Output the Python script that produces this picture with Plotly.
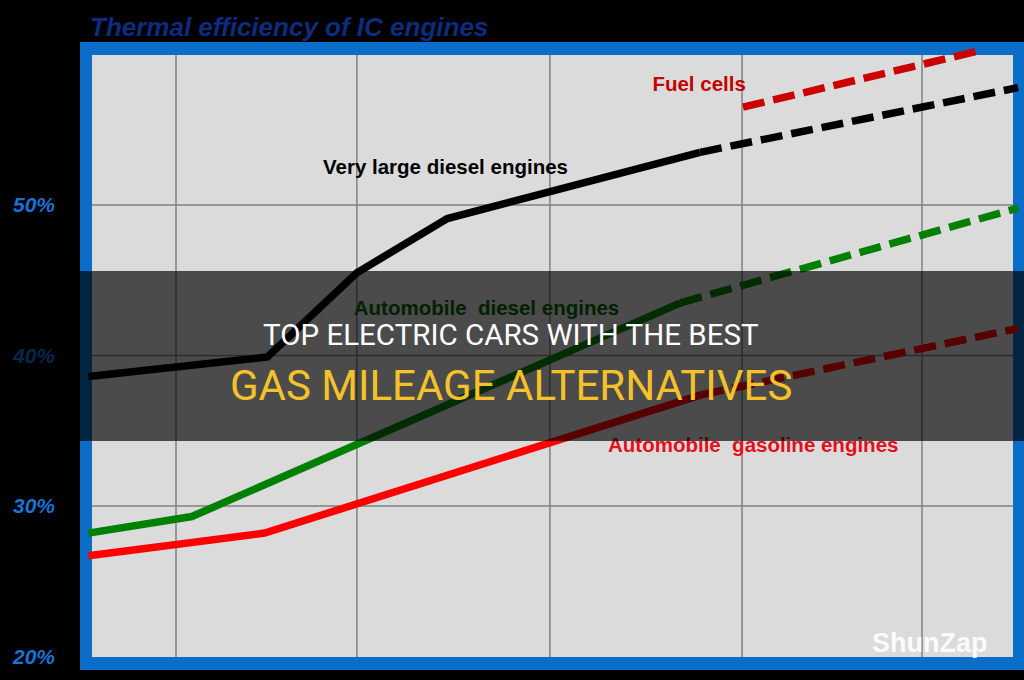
import plotly.graph_objects as go

# ---------------- data ----------------
# x in approximate years, y in thermal efficiency (%)
x_grid = [1920, 1939.4, 1960.1, 1980.7, 2000.0]
y_grid = [30, 40, 50]
y_ticks = [20, 30, 40, 50]
y_ticktext = ["20%", "30%", "40%", "50%"]

large_diesel_x = [1910.6, 1929.8, 1939.4, 1949.1, 1976.2]
large_diesel_y = [38.6, 39.9, 45.5, 49.1, 53.5]
large_diesel_proj_x = [1976.2, 2010.3]
large_diesel_proj_y = [53.5, 57.8]

auto_diesel_x = [1910.6, 1921.7, 1974.1]
auto_diesel_y = [28.2, 29.3, 43.5]
auto_diesel_proj_x = [1974.1, 2010.3]
auto_diesel_proj_y = [43.5, 49.8]

gasoline_x = [1910.6, 1929.5, 1976.4]
gasoline_y = [26.7, 28.2, 37.4]
gasoline_proj_x = [1976.4, 2010.3]
gasoline_proj_y = [37.4, 41.8]

fuel_cell_x = [1980.8, 2006.5]
fuel_cell_y = [56.5, 60.3]

label_text = ["Very large diesel engines", "Fuel cells",
              "Automobile\u00a0 diesel engines", "Automobile\u00a0 gasoline engines"]
label_x = [1948.9, 1976.1, 1953.3, 1981.9]
label_y = [52.4, 57.9, 43.0, 33.9]
label_colors = ["#000000", "#c40000", "#006400", "#e3101a"]

title_text = "Thermal efficiency of IC engines"
banner_line1 = "TOP ELECTRIC CARS WITH THE BEST"
banner_line2 = "GAS MILEAGE ALTERNATIVES"
watermark = "ShunZap"

# ---------------- styling ----------------
W, H = 1024, 680
ML, MR, MT, MB = 80, 0, 42, 10
PW, PH = W - ML - MR, H - MT - MB
BLUE = "#0a6ec8"
GRAY = "#dbdbdb"
GRID = "#808080"
DASH = "22px,9px"
LW = 7.5

GY0 = 1 - (657 - MT) / PH   # inner panel bottom (domain)
GY1 = 1 - (55 - MT) / PH    # inner panel top (domain)
GX0 = 12 / PW
GX1 = 933 / PW


def px(x):
    return (x - ML) / PW


def py(y):
    return 1 - (y - MT) / PH


fig = go.Figure()


def add_line(x, y, color, dash="solid"):
    fig.add_trace(go.Scatter(x=x, y=y, mode="lines",
                             line=dict(color=color, width=LW, dash=dash),
                             hoverinfo="skip"))


add_line(gasoline_x, gasoline_y, "#ff0000")
add_line(gasoline_proj_x, gasoline_proj_y, "#ff0000", DASH)
add_line(auto_diesel_x, auto_diesel_y, "#008000")
add_line(auto_diesel_proj_x, auto_diesel_proj_y, "#008000", DASH)
add_line(large_diesel_x, large_diesel_y, "#000000")
add_line(large_diesel_proj_x, large_diesel_proj_y, "#000000", DASH)
add_line(fuel_cell_x, fuel_cell_y, "#cc0000", DASH)

for t, x, y, c in zip(label_text, label_x, label_y, label_colors):
    fig.add_trace(go.Scatter(x=[x], y=[y], mode="text", text=[t],
                             textposition="middle center",
                             textfont=dict(family="Liberation Sans", size=20.5,
                                           color=c, weight="bold"),
                             hoverinfo="skip"))

x_lo = 1920 + (ML - 176) / 9.325
x_hi = 1920 + (W - 176) / 9.325
y_hi = 50 + (205 - MT) / 15.05
y_lo = 50 - (H - MB - 205) / 15.05

shapes = [
    # inner gray panel
    dict(type="rect", xref="x domain", yref="y domain",
         x0=GX0, x1=GX1, y0=GY0, y1=GY1,
         fillcolor=GRAY, line=dict(width=0), layer="below"),
]
# grid lines inside the gray panel only
for gx in x_grid:
    shapes.append(dict(type="line", xref="x", yref="y domain",
                       x0=gx, x1=gx, y0=GY0, y1=GY1,
                       line=dict(color=GRID, width=1.5), layer="below"))
for gy in y_grid:
    shapes.append(dict(type="line", xref="x domain", yref="y",
                       x0=GX0, x1=GX1, y0=gy, y1=gy,
                       line=dict(color=GRID, width=1.5), layer="below"))
# dark banner
shapes.append(dict(type="rect", xref="paper", yref="paper",
                   x0=-ML / PW, x1=1, y0=py(441), y1=py(271),
                   fillcolor="rgba(0,0,0,0.66)", line=dict(width=0), layer="above"))

annotations = [
    dict(text=title_text, xref="paper", yref="paper", x=px(289), y=py(27),
         xanchor="center", yanchor="middle", showarrow=False,
         font=dict(family="Liberation Sans", size=26, color="#0f2b7e",
                   weight="bold", style="italic")),
    dict(text=banner_line1, xref="paper", yref="paper", x=px(511), y=py(335),
         xanchor="center", yanchor="middle", showarrow=False,
         font=dict(family="Roboto", size=29.5, color="#ffffff")),
    dict(text=banner_line2, xref="paper", yref="paper", x=px(511), y=py(385),
         xanchor="center", yanchor="middle", showarrow=False,
         font=dict(family="Roboto", size=42, color="#f6c22a")),
    dict(text=watermark, xref="paper", yref="paper", x=px(930), y=py(643),
         xanchor="center", yanchor="middle", showarrow=False,
         font=dict(family="Liberation Sans", size=27, color="rgba(255,255,255,0.93)",
                   weight="bold")),
]

fig.update_layout(
    width=W, height=H,
    margin=dict(l=ML, r=MR, t=MT, b=MB),
    paper_bgcolor="#000000", plot_bgcolor=BLUE,
    showlegend=False,
    shapes=shapes, annotations=annotations,
    xaxis=dict(range=[x_lo, x_hi], showticklabels=False,
               showgrid=False, zeroline=False,
               showline=False, ticks="", fixedrange=True),
    yaxis=dict(range=[y_lo, y_hi], tickvals=y_ticks, ticktext=y_ticktext,
               showgrid=False, zeroline=False,
               showline=False, ticks="", ticklabelstandoff=24,
               tickfont=dict(family="Liberation Sans", size=21, color="#1a72d2",
                             weight="bold", style="italic"),
               fixedrange=True),
)

fig.write_html("out.html")
